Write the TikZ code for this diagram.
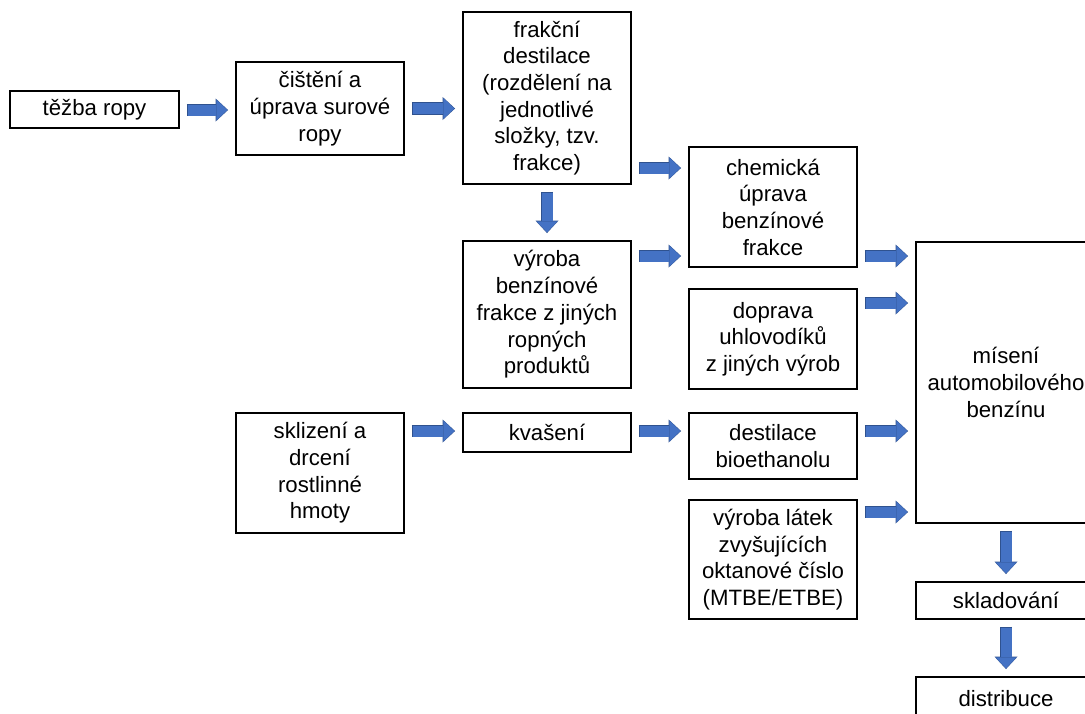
\documentclass[tikz,border=0pt]{standalone}
\usepackage{fontspec}
\setmainfont{Liberation Sans}
\usetikzlibrary{arrows.meta}
\definecolor{arrowblue}{HTML}{4472C4}
\definecolor{arrowedge}{HTML}{2F528F}
\tikzset{
  box/.style={draw=black, line width=1.3pt, fill=white, align=center, inner sep=0pt,
    font=\fontsize{22.2pt}{26.7pt}\selectfont},
  barrow/.style={draw=arrowblue, line width=11pt,
    -{Triangle[length=11pt,width=21pt,line width=0pt]},
    shorten <=8pt, shorten >=8pt,
    preaction={draw=arrowedge, line width=12.4pt,
      -{Triangle[length=12.4pt,width=23pt,line width=0pt]},
      shorten <=7.3pt, shorten >=7.3pt}}
}
\begin{document}
\begin{tikzpicture}[x=1pt,y=-1pt]
\useasboundingbox (0,0) rectangle (1085,713);
\clip (0,0) rectangle (1085,713);
\fill[white] (0,0) rectangle (1085,713);
\node[box, minimum width=169pt, minimum height=37pt] (tezba) at (94.5,109.5) {těžba ropy};
\node[box, minimum width=168pt, minimum height=93pt] (cist) at (320,108.5) {čištění a\\úprava surové\\ropy};
\node[box, minimum width=168pt, minimum height=172pt] (frak) at (547,98) {frakční\\destilace\\(rozdělení na\\jednotlivé\\složky, tzv.\\frakce)};
\node[box, minimum width=168pt, minimum height=120pt] (chem) at (773,207) {chemická\\úprava\\benzínové\\frakce};
\node[box, minimum width=168pt, minimum height=147pt] (vyroba) at (547,314.5) {výroba\\benzínové\\frakce z jiných\\ropných\\produktů};
\node[box, minimum width=168pt, minimum height=100pt] (doprava) at (773,339) {doprava\\uhlovodíků\\z jiných výrob};
\node[box, minimum width=168pt, minimum height=120pt] (skliz) at (320,473) {sklizení a\\drcení\\rostlinné\\hmoty};
\node[box, minimum width=168pt, minimum height=39pt] (kvas) at (547,432.5) {kvašení};
\node[box, minimum width=168pt, minimum height=66pt] (dest) at (773,446) {destilace\\bioethanolu};
\node[box, minimum width=168pt, minimum height=119pt] (latky) at (773,559.5) {výroba látek\\zvyšujících\\oktanové číslo\\(MTBE/ETBE)};
\node[box, minimum width=180pt, minimum height=281pt] (misen) at (1006,382.5) {mísení\\automobilového\\benzínu};
\node[box, minimum width=180pt, minimum height=37pt] (sklad) at (1006,600.5) {skladování};
\node[box, minimum width=180pt, minimum height=43pt] (distr) at (1006,698.5) {distribuce};

\draw[barrow] (tezba.east |- 0,110) -- (cist.west |- 0,110);
\draw[barrow] (cist.east |- 0,108.5) -- (frak.west |- 0,108.5);
\draw[barrow] (frak.east |- 0,168) -- (chem.west |- 0,168);
\draw[barrow] (vyroba.east |- 0,256) -- (chem.west |- 0,256);
\draw[barrow] (frak.south) -- (vyroba.north);
\draw[barrow] (chem.east |- 0,256) -- (misen.west |- 0,256);
\draw[barrow] (doprava.east |- 0,303) -- (misen.west |- 0,303);
\draw[barrow] (skliz.east |- 0,431) -- (kvas.west |- 0,431);
\draw[barrow] (kvas.east |- 0,431) -- (dest.west |- 0,431);
\draw[barrow] (dest.east |- 0,431) -- (misen.west |- 0,431);
\draw[barrow] (latky.east |- 0,512) -- (misen.west |- 0,512);
\draw[barrow] (misen.south) -- (sklad.north);
\draw[barrow] (sklad.south) -- (distr.north);
\end{tikzpicture}
\end{document}
